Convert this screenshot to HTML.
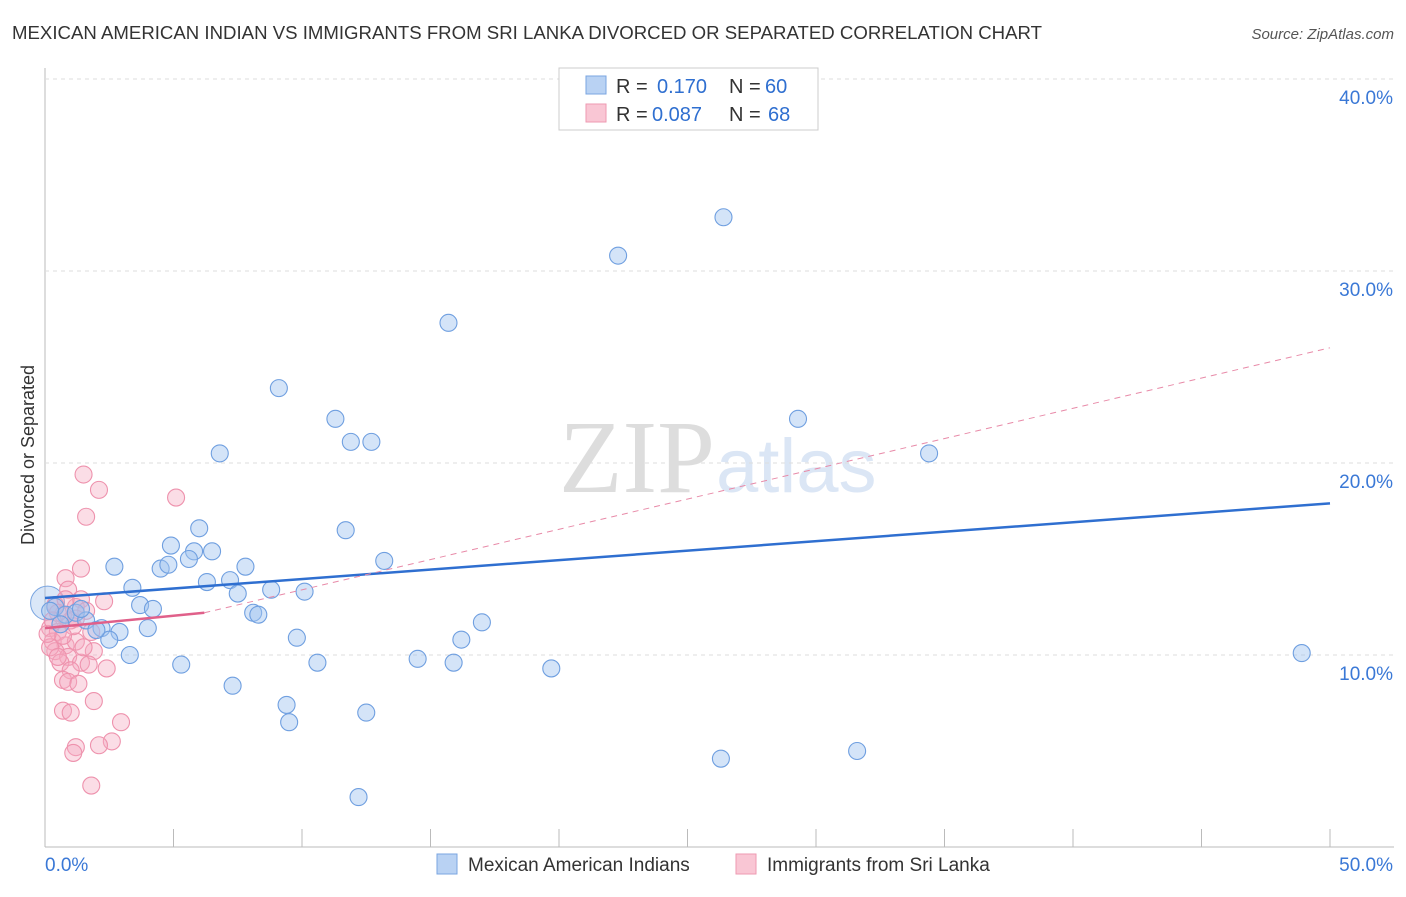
<!DOCTYPE html>
<html><head><meta charset="utf-8"><style>
body{margin:0;background:#fff;font-family:"Liberation Sans",sans-serif}
</style></head><body>
<svg id="c" width="1406" height="892" xmlns="http://www.w3.org/2000/svg">
<text x="12" y="39" font-size="18" fill="#333" textLength="1030" lengthAdjust="spacingAndGlyphs">MEXICAN AMERICAN INDIAN VS IMMIGRANTS FROM SRI LANKA DIVORCED OR SEPARATED CORRELATION CHART</text>
<text x="1394" y="39" font-size="15" fill="#555" font-style="italic" text-anchor="end">Source: ZipAtlas.com</text>
<text x="34" y="455" font-size="18" fill="#333" transform="rotate(-90 34 455)" text-anchor="middle">Divorced or Separated</text>
<text x="715" y="492" font-size="104" fill="#ddd" text-anchor="end" font-family="Liberation Serif,serif">ZIP</text>
<text x="716" y="492" font-size="76" fill="#dbe6f5">atlas</text>
<g id="grid"></g><g id="pts"></g><g id="trend"></g>
<rect x="559" y="68" width="259" height="62" fill="#fff" stroke="#ccc"/>
<rect x="586" y="76" width="20" height="18" fill="#b9d2f3" stroke="#7aa5e0"/>
<rect x="586" y="104" width="20" height="18" fill="#f9c6d4" stroke="#ee9ab2"/>
<g font-size="20" fill="#333">
<text x="616" y="93">R =</text><text x="657" y="93" fill="#2f6fd0">0.170</text><text x="729" y="93">N =</text><text x="765" y="93" fill="#2f6fd0">60</text>
<text x="616" y="121">R =</text><text x="652" y="121" fill="#2f6fd0">0.087</text><text x="729" y="121">N =</text><text x="768" y="121" fill="#2f6fd0">68</text>
</g>
<rect x="437" y="854" width="20" height="20" fill="#b9d2f3" stroke="#7aa5e0"/>
<text x="468" y="871" font-size="19" fill="#333">Mexican American Indians</text>
<rect x="736" y="854" width="20" height="20" fill="#f9c6d4" stroke="#ee9ab2"/>
<text x="767" y="871" font-size="19" fill="#333">Immigrants from Sri Lanka</text>
</svg>
<script>
const yTicks=[10,20,30,40];
const yTickLabels=["10.0%","20.0%","30.0%","40.0%"];
const xTickLabels=["0.0%","50.0%"];
const blueX=[26.4,22.3,15.7,9.1,11.3,29.3,11.9,12.7,6.8,34.4,11.7,6.0,4.9,5.8,6.5,5.6,13.2,2.7,4.5,4.8,7.8,3.4,6.3,7.2,7.5,8.8,10.1,3.7,4.2,8.1,8.3,2.9,4.0,2.2,2.5,9.8,16.2,17.0,3.3,5.3,10.6,14.5,15.9,19.7,7.3,9.4,9.5,12.5,26.3,31.6,12.2,48.9,0.4,0.8,1.2,1.6,2.0,0.2,1.4,0.6];
const blueY=[32.8,30.8,27.3,23.9,22.3,22.3,21.1,21.1,20.5,20.5,16.5,16.6,15.7,15.4,15.4,15.0,14.9,14.6,14.5,14.7,14.6,13.5,13.8,13.9,13.2,13.4,13.3,12.6,12.4,12.2,12.1,11.2,11.4,11.4,10.8,10.9,10.8,11.7,10.0,9.5,9.6,9.8,9.6,9.3,8.4,7.4,6.5,7.0,4.6,5.0,2.6,10.1,12.5,12.1,12.2,11.8,11.3,12.3,12.4,11.6];
const pinkX=[1.5,2.1,5.1,1.6,1.4,0.8,0.9,2.3,1.4,1.2,0.4,1.0,1.6,0.7,0.2,0.5,0.3,0.8,1.2,1.8,0.4,0.9,1.4,1.9,0.6,0.2,1.0,1.7,2.4,0.7,0.9,1.3,1.9,0.7,1.0,2.958,2.6,2.1,1.2,1.1,1.8,0.8,0.5,1.1,0.7,0.1,0.3,1.2,1.5,0.5];
const pinkY=[19.4,18.6,18.2,17.2,14.5,14.0,13.4,12.8,12.9,12.5,12.6,11.8,12.3,12.1,11.4,11.2,10.7,10.5,10.7,11.2,10.2,9.9,9.6,10.2,9.6,10.4,9.2,9.5,9.3,8.7,8.6,8.5,7.6,7.1,7.0,6.5,5.5,5.3,5.2,4.9,3.2,12.9,12.2,11.5,11.0,11.1,11.8,11.9,10.4,9.9];
const X=v=>45+v*25.7, Y=v=>847-v*19.2;
const NS="http://www.w3.org/2000/svg";
function mk(t,a,p){const e=document.createElementNS(NS,t);for(const k in a)e.setAttribute(k,a[k]);p.appendChild(e);return e;}
const g=document.getElementById('grid');
mk('line',{x1:45,y1:68,x2:45,y2:847,stroke:'#bbb'},g);
mk('line',{x1:45,y1:847,x2:1394,y2:847,stroke:'#bbb'},g);
yTicks.forEach((t,i)=>{const l=mk('line',{x1:45,y1:Y(t),x2:1394,y2:Y(t),stroke:'#ddd','stroke-dasharray':'4,4'},g);


const tx=mk('text',{x:1393,y:Y(t)+25,'font-size':19,fill:'#3a78d6','text-anchor':'end'},g);tx.textContent=yTickLabels[i];

});
for(let i=0;i<=10;i++){const l=mk('line',{x1:X(i*5),y1:829,x2:X(i*5),y2:847,stroke:'#bbb'},g);

}
[[0,45,'start'],[50,1393,'end']].forEach((d,i)=>{const t=mk('text',{x:d[1],y:871,'font-size':19,fill:'#3a78d6','text-anchor':d[2]},g);t.textContent=xTickLabels[i];

});
const p=document.getElementById('pts');
const big=mk('circle',{cx:X(0.1),cy:Y(12.7),r:17,fill:'rgba(150,185,235,0.35)',stroke:'#7aa5e0'},p);


pinkX.forEach((v,i)=>{const c=mk('circle',{cx:X(v),cy:Y(pinkY[i]),r:8.5,fill:'rgba(246,170,192,0.4)',stroke:'#ee92ad','stroke-width':1.1},p);

});
blueX.forEach((v,i)=>{const c=mk('circle',{cx:X(v),cy:Y(blueY[i]),r:8.5,fill:'rgba(160,195,240,0.45)',stroke:'#6f9fe0','stroke-width':1.1},p);

});
const tr=document.getElementById('trend');
const bl=mk('line',{x1:X(0),y1:Y(12.97),x2:X(50),y2:Y(17.9),stroke:'#2f6fd0','stroke-width':2.5},tr);


const pd=mk('line',{x1:X(6.2),y1:Y(12.2),x2:X(50),y2:Y(26.0),stroke:'#e88aa8','stroke-width':1,'stroke-dasharray':'6,5'},tr);


const ps=mk('line',{x1:X(0),y1:Y(11.4),x2:X(6.2),y2:Y(12.2),stroke:'#e0608a','stroke-width':2.5},tr);


</script>
</body></html>
